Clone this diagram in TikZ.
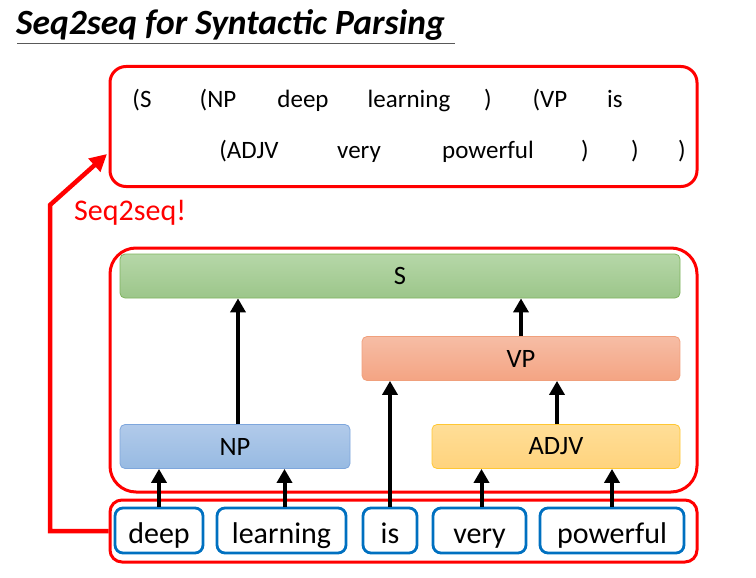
\documentclass[tikz,border=0pt]{standalone}
\usepackage{fontspec}
\setmainfont{Carlito}
\usetikzlibrary{arrows.meta,calc}
\definecolor{wordblue}{HTML}{0070C0}
\definecolor{gtop}{HTML}{B6D7A8}\definecolor{gbot}{HTML}{9CC68A}\definecolor{gline}{HTML}{7FB35E}
\definecolor{otop}{HTML}{F6BDA5}\definecolor{obot}{HTML}{F4A483}\definecolor{oline}{HTML}{F0A07C}
\definecolor{btop}{HTML}{B1CAEA}\definecolor{bbot}{HTML}{97BAE2}\definecolor{bline}{HTML}{7EA6DC}
\definecolor{ytop}{HTML}{FFDE97}\definecolor{ybot}{HTML}{FFD37D}\definecolor{yline}{HTML}{FFC733}
\begin{document}
\begin{tikzpicture}[x=1pt,y=-1pt,
  redbox/.style={draw=red, line width=3pt, rounded corners=16pt, inner sep=0pt},
  tok/.style={anchor=base, font=\fontsize{25}{30}\selectfont, inner sep=0pt},
  catbox/.style={rounded corners=5pt, line width=0.8pt, inner sep=0pt, minimum height=44pt, font=\fontsize{26.5}{30}\selectfont},
  wordbox/.style={draw=wordblue, line width=2.8pt, rounded corners=8pt, inner sep=0pt, minimum height=45pt, text height=25pt, text depth=0pt, font=\fontsize{30}{36}\selectfont},
  arr/.style={line width=4pt, -{Triangle[length=14pt,width=15pt]}},
  redarr/.style={draw=red, line width=4.5pt, -{Triangle[length=17pt,width=17pt]}}
]
\useasboundingbox (0,0) rectangle (756,578);

% title
\node[anchor=base west, inner sep=0pt, font=\fontsize{35.5}{40}\selectfont\bfseries\itshape] (title) at (16,35) {Seq2seq for Syntactic Parsing};
\draw[black!65, line width=1.6pt] (17,43.5) -- (455,43.5);

% output box
\node[redbox, minimum width=587pt, minimum height=120pt] (out) at (403.5,126.5) {};
\node[tok] (t1) at (142,107) {(S};
\node[tok] (t2) at (218,107) {(NP};
\node[tok] (t3) at (303,107) {deep};
\node[tok] (t4) at (409,107) {learning};
\node[tok] (t5) at (488,107) {)};
\node[tok] (t6) at (550,107) {(VP};
\node[tok] (t7) at (615,107) {is};
\node[tok] (t8) at (249,158) {(ADJV};
\node[tok] (t9) at (359,158) {very};
\node[tok] (t10) at (488,158) {powerful};
\node[tok] (t11) at (585,158) {)};
\node[tok] (t12) at (635,158) {)};
\node[tok] (t13) at (682,158) {)};

\node[anchor=base west, inner sep=0pt, text=red, font=\fontsize{30}{36}\selectfont] (lab) at (74,220) {Seq2seq!};

% tree box
\node[redbox, rounded corners=26pt, minimum width=587pt, minimum height=244pt] (tree) at (403.5,370) {};
\node[catbox, draw=gline, top color=gtop, bottom color=gbot, minimum width=560pt] (S) at (400,276) {S};
\node[catbox, draw=oline, top color=otop, bottom color=obot, minimum width=318pt] (VP) at (521,358.5) {VP};
\node[catbox, draw=bline, top color=btop, bottom color=bbot, minimum width=230pt] (NP) at (235,446.5) {NP};
\node[catbox, draw=yline, top color=ytop, bottom color=ybot, minimum width=248pt] (ADJV) at (556,446.5) {ADJV};

% input box
\node[redbox, rounded corners=12pt, minimum width=587pt, minimum height=62pt] (in) at (403.5,531) {};
\node[wordbox, minimum width=88pt] (w1) at (159,530.5) {deep};
\node[wordbox, minimum width=129pt] (w2) at (281.5,530.5) {learning};
\node[wordbox, minimum width=54pt] (w3) at (390,530.5) {is};
\node[wordbox, minimum width=93pt] (w4) at (479.5,530.5) {very};
\node[wordbox, minimum width=144pt] (w5) at (612,530.5) {powerful};

% arrows
\draw[arr] (w1.north) -- (w1.north |- NP.south);
\draw[arr] ([xshift=3pt]w2.north) -- ([xshift=3pt]w2.north |- NP.south);
\draw[arr] (w3.north) -- (w3.north |- VP.south);
\draw[arr] ([xshift=2pt]w4.north) -- ([xshift=2pt]w4.north |- ADJV.south);
\draw[arr] (w5.north) -- (w5.north |- ADJV.south);
\draw[arr] ([xshift=3pt]NP.north) -- ([xshift=3pt]NP.north |- S.south);
\draw[arr] (VP.north) -- (VP.north |- S.south);
\draw[arr] ([xshift=1pt]ADJV.north) -- ([xshift=1pt]ADJV.north |- VP.south);

% seq2seq arrow
\coordinate (bend) at (50,205);
\coordinate (tip) at (107,154);
\draw[redarr] (in.west) -| (bend) -- (tip);
\end{tikzpicture}
\end{document}
